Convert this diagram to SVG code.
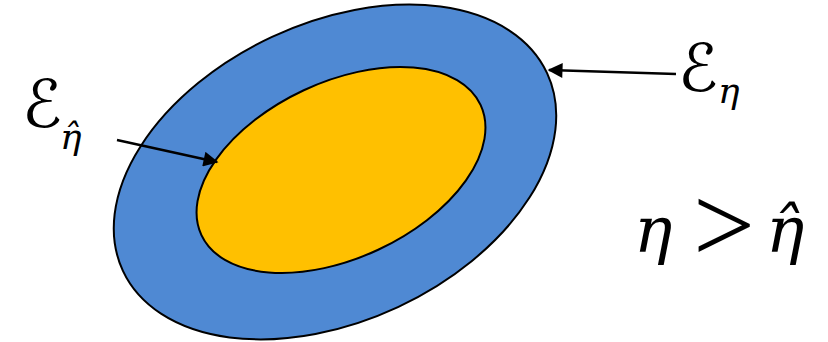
<svg xmlns="http://www.w3.org/2000/svg" width="828" height="342" viewBox="0 0 828 342">
<defs>
<style>
.ell{stroke:#000;stroke-width:2}
.it{font-family:"DejaVu Serif","Liberation Serif",serif;font-style:italic;fill:#000}
.rm{font-family:"Liberation Serif","DejaVu Serif",serif;font-style:normal;fill:#000}
.cal{font-family:"DejaVu Serif","DejaVu Sans",serif;font-style:normal;fill:#000}
.conn{stroke:#000;stroke-width:2.5;fill:none;marker-end:url(#ah)}
</style>
<marker id="ah" viewBox="0 0 10 10" refX="9" refY="5" markerWidth="6.5" markerHeight="6" markerUnits="strokeWidth" orient="auto">
<path d="M0,0 L10,5 L0,10 Z" fill="#000"/>
</marker>
</defs>
<rect width="828" height="342" fill="#fff"/>
<g id="outer">
<ellipse class="ell" cx="335" cy="172" rx="234" ry="149" transform="rotate(-25 335 172)" fill="#4F89D3"/>
</g>
<g id="inner">
<ellipse class="ell" cx="341" cy="170" rx="154" ry="88" transform="rotate(-25 341 170)" fill="#FFC000"/>
</g>
<g id="connectors">
<line class="conn" x1="117" y1="140" x2="217" y2="162"/>
<line class="conn" x1="676" y1="74" x2="549" y2="70"/>
</g>
<g id="label-eta-hat">
<text class="cal" x="22" y="127" font-size="66">ℰ</text>
<text class="it" x="60" y="149" font-size="36">η̂</text>
</g>
<g id="label-eta">
<text class="cal" x="678" y="91" font-size="66">ℰ</text>
<text class="it" x="718" y="103" font-size="36">η</text>
</g>
<g id="relation">
<text class="it" x="634" y="252" font-size="64">η</text>
<text class="rm" x="693" y="262" font-size="110">&gt;</text>
<text class="it" x="766" y="252" font-size="64">η̂</text>
</g>
</svg>
